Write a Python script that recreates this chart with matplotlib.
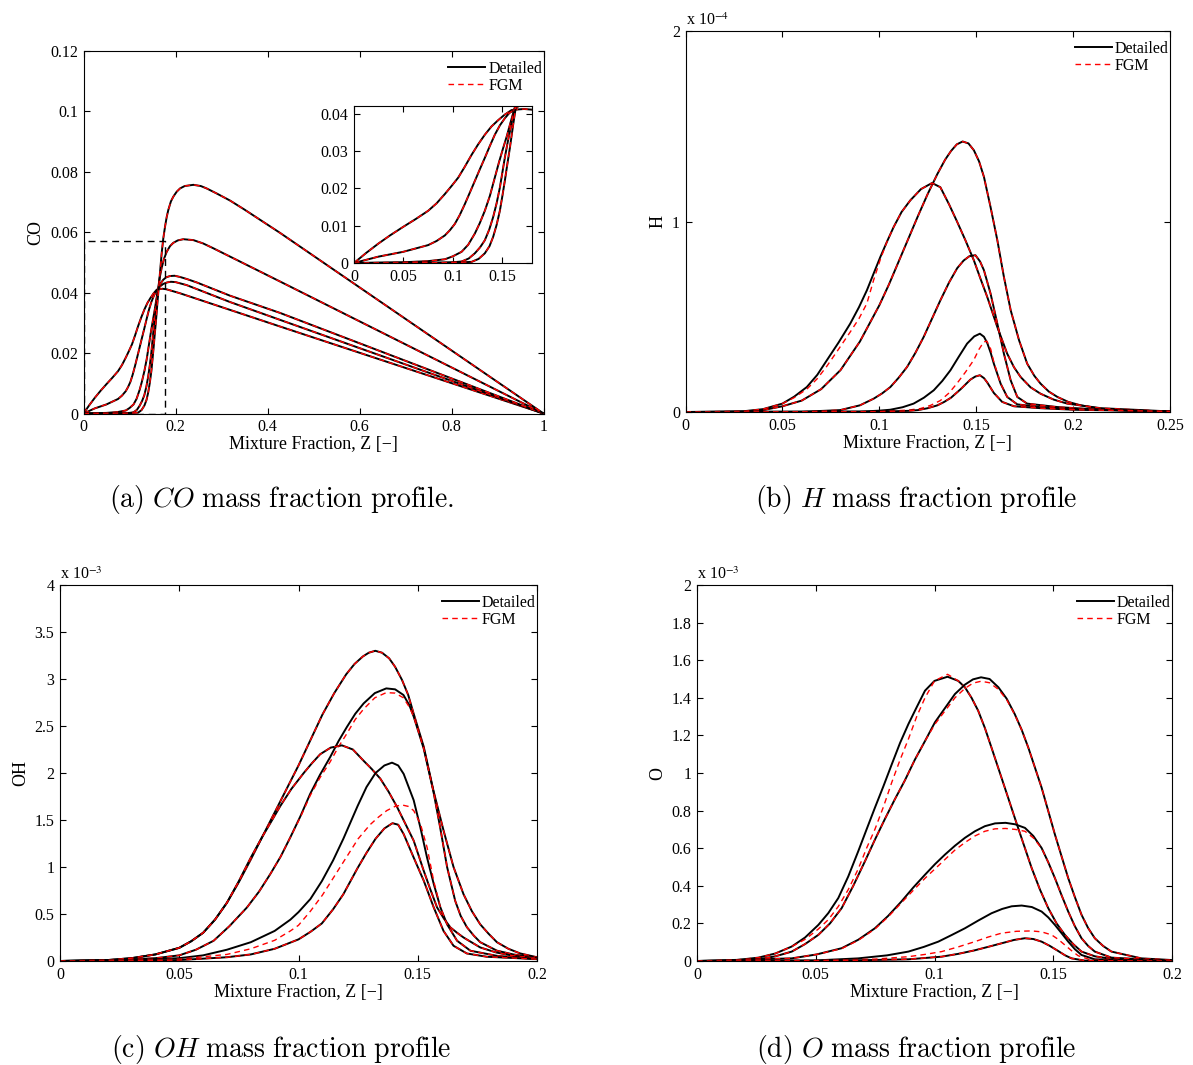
import numpy as np
import matplotlib
matplotlib.use("Agg")
import matplotlib.pyplot as plt
from matplotlib.ticker import FuncFormatter

plt.rcParams['font.family'] = ['Liberation Serif', 'DejaVu Serif']

# ---------------- data ----------------
# (a) CO mass fraction, five flamelets A..E
co_z_a = [0, 0.0123, 0.0246, 0.037, 0.0498, 0.0625, 0.075, 0.0835, 0.0919, 0.0985, 0.1054, 0.112, 0.1189, 0.1255,
          0.1323, 0.139, 0.1458, 0.1525, 0.1593, 0.162, 0.172, 0.1808, 0.2098, 0.3185, 0.4272, 1.0]
co_a = [0, 0.0027, 0.0052, 0.0075, 0.0097, 0.0118, 0.014, 0.016, 0.0185, 0.0206, 0.0229, 0.0258, 0.029, 0.0318,
        0.0344, 0.0366, 0.0383, 0.0398, 0.041, 0.0411, 0.0413, 0.0411, 0.0398, 0.0343, 0.0288, 0]
co_z_b = [0, 0.0246, 0.0498, 0.075, 0.0835, 0.0919, 0.097, 0.102, 0.107, 0.1121, 0.117, 0.1222, 0.1272, 0.1323,
          0.1374, 0.1424, 0.1475, 0.1525, 0.157, 0.162, 0.1665, 0.1735, 0.182, 0.19, 0.2, 0.2243, 0.3185, 0.4272, 1.0]
co_b = [0, 0.0017, 0.003, 0.0048, 0.0059, 0.0074, 0.0088, 0.0105, 0.0129, 0.0158, 0.0188, 0.022, 0.0251, 0.0282,
        0.0314, 0.0344, 0.0369, 0.0388, 0.0402, 0.0411, 0.0421, 0.0429, 0.0434, 0.0436, 0.0435, 0.0425, 0.0369, 0.031, 0]
co_z_c = [0, 0.05, 0.075, 0.0919, 0.1, 0.1088, 0.1155, 0.1222, 0.1272, 0.1323, 0.1374, 0.1424, 0.1466, 0.1508,
          0.1545, 0.1576, 0.16, 0.162, 0.1665, 0.1735, 0.18, 0.188, 0.198, 0.2098, 0.225, 0.246, 0.3185, 0.4272, 1.0]
co_c = [0, 0.0002, 0.0005, 0.001, 0.0018, 0.003, 0.0049, 0.0079, 0.0107, 0.014, 0.018, 0.0229, 0.027, 0.0308,
        0.034, 0.037, 0.0393, 0.0411, 0.0428, 0.0443, 0.0451, 0.0455, 0.0456, 0.0452, 0.0445, 0.0434, 0.039, 0.0333, 0]
co_z_d = [0, 0.09, 0.1, 0.1088, 0.116, 0.1222, 0.1275, 0.1323, 0.1368, 0.1407, 0.1442, 0.1475, 0.15, 0.1525,
          0.155, 0.1576, 0.16, 0.162, 0.1655, 0.1699, 0.175, 0.1808, 0.188, 0.1953, 0.205, 0.217, 0.2388, 0.26,
          0.2822, 0.3547, 0.4272, 1.0]
co_d = [0, 0.0001, 0.0002, 0.0004, 0.0012, 0.0026, 0.0042, 0.0061, 0.009, 0.0123, 0.016, 0.0202, 0.0242, 0.0282,
        0.0318, 0.0352, 0.0385, 0.0411, 0.0448, 0.0482, 0.0512, 0.0535, 0.0554, 0.0565, 0.0573, 0.0577, 0.0574, 0.0563,
        0.0547, 0.0492, 0.0437, 0]
co_z_e = [0, 0.1, 0.1189, 0.126, 0.1323, 0.137, 0.1407, 0.1442, 0.1475, 0.15, 0.1525, 0.155, 0.1576, 0.1609,
          0.1633, 0.1665, 0.1699, 0.1735, 0.1772, 0.1808, 0.1844, 0.19, 0.1953, 0.2025, 0.2098, 0.22, 0.2388, 0.255,
          0.2678, 0.29, 0.3185, 0.35, 0.4272, 1.0]
co_e = [0, 0.0001, 0.0003, 0.0011, 0.0026, 0.0045, 0.007, 0.0102, 0.014, 0.0179, 0.022, 0.0264, 0.0308, 0.037,
        0.0412, 0.047, 0.053, 0.058, 0.0618, 0.065, 0.0674, 0.0702, 0.0718, 0.0734, 0.0745, 0.0753, 0.0757, 0.0753,
        0.0745, 0.0728, 0.0705, 0.0675, 0.0598, 0]
zoom_box_z = [0.001, 0.001, 0.177, 0.177, 0.001]
zoom_box_co = [0, 0.0571, 0.0571, 0, 0]

# (b) H mass fraction [x 1e-4]
h_z_1 = [0, 0.02, 0.03, 0.04, 0.05, 0.06, 0.07, 0.08, 0.09, 0.1, 0.105, 0.11, 0.115, 0.12, 0.125, 0.13, 0.134,
         0.137, 0.14, 0.143, 0.146, 0.1488, 0.1515, 0.154, 0.1574, 0.1609, 0.1643, 0.1678, 0.1721, 0.1763, 0.18,
         0.1832, 0.1875, 0.1919, 0.1975, 0.2039, 0.2143, 0.23, 0.25]
h_1 = [0, 0.0005, 0.002, 0.01, 0.03, 0.06, 0.12, 0.22, 0.37, 0.56, 0.67, 0.79, 0.91, 1.03, 1.145, 1.25, 1.325,
       1.37, 1.405, 1.42, 1.41, 1.374, 1.315, 1.234, 1.076, 0.902, 0.709, 0.534, 0.377, 0.254, 0.19,
       0.149, 0.107, 0.079, 0.053, 0.035, 0.017, 0.007, 0.002]
h_z_2 = [0, 0.03, 0.04, 0.05, 0.056, 0.0626, 0.068, 0.0729, 0.079, 0.085, 0.0895, 0.0936, 0.097, 0.1005, 0.104,
         0.1074, 0.1115, 0.116, 0.1215, 0.1272, 0.1315, 0.136, 0.1401, 0.1445, 0.1488, 0.1522, 0.1557, 0.1609,
         0.166, 0.1695, 0.1729, 0.178, 0.1832, 0.19, 0.197, 0.2143, 0.25]
h_2 = [0, 0.004, 0.015, 0.044, 0.08, 0.131, 0.195, 0.271, 0.365, 0.464, 0.55, 0.639, 0.725, 0.813, 0.895,
       0.971, 1.05, 1.111, 1.17, 1.202, 1.18, 1.09, 1.0, 0.9, 0.796, 0.7, 0.604, 0.446,
       0.306, 0.235, 0.184, 0.13, 0.096, 0.065, 0.044, 0.02, 0.003]
h_2_fgm = [0, 0.004, 0.015, 0.044, 0.075, 0.12, 0.175, 0.24, 0.33, 0.42, 0.49, 0.57, 0.69, 0.8, 0.895,
           0.971, 1.05, 1.111, 1.17, 1.202, 1.18, 1.09, 1.0, 0.9, 0.796, 0.7, 0.604, 0.446,
           0.306, 0.235, 0.184, 0.13, 0.096, 0.065, 0.044, 0.02, 0.003]
h_z_3 = [0, 0.06, 0.0798, 0.09, 0.0971, 0.1015, 0.1057, 0.11, 0.1143, 0.1186, 0.1229, 0.1272, 0.1315, 0.136,
         0.1402, 0.1435, 0.1465, 0.1496, 0.152, 0.154, 0.1574, 0.1609, 0.1643, 0.1678, 0.1712, 0.1763, 0.1919,
         0.2143, 0.25]
h_3 = [0, 0.001, 0.01, 0.035, 0.07, 0.098, 0.131, 0.18, 0.236, 0.31, 0.394, 0.49, 0.586, 0.68,
       0.755, 0.795, 0.818, 0.823, 0.79, 0.744, 0.622, 0.464, 0.306, 0.166, 0.079, 0.044, 0.026,
       0.012, 0.003]
h_z_4 = [0, 0.09, 0.1, 0.1057, 0.112, 0.1177, 0.123, 0.1281, 0.1325, 0.1367, 0.141, 0.1453, 0.149, 0.1519,
         0.154, 0.1557, 0.1575, 0.1591, 0.1626, 0.166, 0.1712, 0.1832, 0.2, 0.25]
h_4 = [0, 0.002, 0.007, 0.012, 0.025, 0.044, 0.075, 0.114, 0.163, 0.219, 0.29, 0.359, 0.397, 0.411,
       0.395, 0.362, 0.31, 0.254, 0.149, 0.079, 0.04, 0.026, 0.015, 0.003]
h_z_4f = [0, 0.1, 0.115, 0.1212, 0.1265, 0.1315, 0.136, 0.14, 0.1445, 0.1487, 0.1515, 0.1539, 0.1555, 0.1575,
          0.1591, 0.1626, 0.166, 0.1712, 0.1832, 0.2, 0.25]
h_4f = [0, 0.002, 0.01, 0.018, 0.035, 0.06, 0.1, 0.149, 0.21, 0.272, 0.33, 0.368, 0.372, 0.33,
        0.262, 0.149, 0.079, 0.04, 0.026, 0.015, 0.003]
h_z_5 = [0, 0.1, 0.115, 0.12, 0.125, 0.13, 0.1335, 0.137, 0.142, 0.147, 0.1495, 0.1519, 0.154, 0.1557, 0.1591,
         0.1634, 0.1695, 0.1832, 0.2, 0.25]
h_5 = [0, 0.002, 0.006, 0.01, 0.02, 0.035, 0.053, 0.075, 0.12, 0.17, 0.186, 0.193, 0.178, 0.155, 0.1,
       0.053, 0.03, 0.02, 0.012, 0.003]

# (c) OH mass fraction [x 1e-3]
oh_z_1 = [0, 0.02, 0.03, 0.04, 0.05, 0.055, 0.06, 0.065, 0.07, 0.075, 0.08, 0.085, 0.09, 0.095, 0.1, 0.105, 0.11,
          0.115, 0.12, 0.1235, 0.127, 0.1295, 0.1322, 0.135, 0.138, 0.1405, 0.1434, 0.146, 0.1483, 0.1525, 0.1566,
          0.1608, 0.165, 0.1692, 0.1727, 0.1762, 0.1797, 0.1832, 0.188, 0.193, 0.2]
oh_1 = [0, 0.01, 0.03, 0.07, 0.14, 0.21, 0.3, 0.44, 0.62, 0.84, 1.08, 1.33, 1.58, 1.83, 2.08, 2.35, 2.62,
        2.85, 3.05, 3.16, 3.24, 3.28, 3.3, 3.28, 3.22, 3.13, 2.99, 2.83, 2.63, 2.28, 1.81,
        1.39, 1.0, 0.71, 0.53, 0.39, 0.29, 0.2, 0.13, 0.08, 0.04]
oh_z_2 = [0, 0.02, 0.04, 0.05, 0.057, 0.0644, 0.071, 0.0784, 0.0835, 0.0882, 0.0925, 0.0966, 0.1008, 0.1049, 0.109,
          0.1133, 0.1168, 0.1203, 0.1238, 0.1273, 0.132, 0.1368, 0.1405, 0.144, 0.1465, 0.1483, 0.1525, 0.1566,
          0.1594, 0.1623, 0.1657, 0.168, 0.1706, 0.1735, 0.1762, 0.1832, 0.19, 0.1972, 0.2]
oh_2 = [0, 0.005, 0.03, 0.06, 0.12, 0.215, 0.37, 0.57, 0.74, 0.926, 1.11, 1.317, 1.54, 1.778, 1.98,
        2.17, 2.34, 2.49, 2.63, 2.74, 2.85, 2.9, 2.89, 2.83, 2.72, 2.6, 2.26, 1.8,
        1.42, 1.0, 0.64, 0.48, 0.36, 0.27, 0.2, 0.11, 0.07, 0.045, 0.04]
oh_2_fgm = [0, 0.005, 0.03, 0.06, 0.12, 0.215, 0.37, 0.57, 0.74, 0.926, 1.11, 1.317, 1.53, 1.76, 1.95,
            2.12, 2.28, 2.42, 2.57, 2.68, 2.8, 2.855, 2.85, 2.8, 2.7, 2.6, 2.26, 1.8,
            1.42, 1.0, 0.64, 0.48, 0.36, 0.27, 0.2, 0.11, 0.07, 0.045, 0.04]
oh_z_3 = [0, 0.02, 0.03, 0.04, 0.05, 0.055, 0.06, 0.065, 0.07, 0.075, 0.08, 0.085, 0.0885, 0.0924, 0.097, 0.1022,
          0.1055, 0.1091, 0.1135, 0.1182, 0.1228, 0.1273, 0.1308, 0.1343, 0.1378, 0.1413, 0.1448, 0.1483, 0.1525,
          0.1553, 0.1581, 0.161, 0.1637, 0.1665, 0.1692, 0.1762, 0.183, 0.1902, 0.2]
oh_3 = [0, 0.01, 0.03, 0.07, 0.14, 0.21, 0.3, 0.44, 0.62, 0.85, 1.1, 1.33, 1.48, 1.65, 1.83, 2.0,
        2.1, 2.2, 2.27, 2.294, 2.25, 2.13, 2.04, 1.94, 1.8, 1.64, 1.46, 1.28, 0.96,
        0.76, 0.57, 0.45, 0.357, 0.3, 0.25, 0.144, 0.09, 0.055, 0.03]
oh_z_4 = [0, 0.03, 0.05, 0.06, 0.07, 0.08, 0.09, 0.0966, 0.1, 0.105, 0.1098, 0.1145, 0.1188, 0.1248, 0.1285,
          0.1323, 0.136, 0.1392, 0.1418, 0.1441, 0.1483, 0.1511, 0.1539, 0.1567, 0.1595, 0.1623, 0.1665, 0.1721,
          0.1832, 0.2]
oh_4 = [0, 0.01, 0.03, 0.06, 0.12, 0.2, 0.32, 0.44, 0.52, 0.66, 0.85, 1.07, 1.3, 1.65, 1.85,
        2.0, 2.08, 2.11, 2.08, 1.99, 1.71, 1.42, 1.1, 0.82, 0.57, 0.39, 0.215, 0.109,
        0.055, 0.02]
oh_z_4f = [0, 0.03, 0.05, 0.07, 0.08, 0.09, 0.0966, 0.1, 0.105, 0.11, 0.115, 0.12, 0.125, 0.13, 0.1335, 0.137,
           0.1405, 0.1434, 0.146, 0.1483, 0.1511, 0.1539, 0.1567, 0.1595, 0.1623, 0.1665, 0.1721, 0.1832, 0.2]
oh_4f = [0, 0.01, 0.02, 0.07, 0.13, 0.22, 0.32, 0.38, 0.53, 0.7, 0.9, 1.1, 1.3, 1.45, 1.53, 1.6,
         1.645, 1.66, 1.645, 1.6, 1.46, 1.21, 0.85, 0.57, 0.39, 0.215, 0.109, 0.055, 0.02]
oh_z_5 = [0, 0.03, 0.05, 0.07, 0.08, 0.09, 0.1, 0.105, 0.1098, 0.1145, 0.1188, 0.1248, 0.1285, 0.1323, 0.136,
          0.1394, 0.1418, 0.1441, 0.1483, 0.1525, 0.1567, 0.1608, 0.165, 0.1706, 0.179, 0.2]
oh_5 = [0, 0.002, 0.01, 0.04, 0.07, 0.13, 0.23, 0.31, 0.4, 0.55, 0.71, 0.99, 1.15, 1.3, 1.41,
        1.466, 1.45, 1.35, 1.1, 0.855, 0.57, 0.32, 0.162, 0.08, 0.045, 0.02]

# (d) O mass fraction [x 1e-3]
o_z_1 = [0, 0.015, 0.0259, 0.033, 0.0399, 0.0455, 0.0511, 0.0553, 0.0595, 0.0637, 0.0679, 0.0714, 0.0749, 0.0785,
         0.082, 0.0855, 0.089, 0.0925, 0.096, 0.1, 0.1055, 0.11, 0.1128, 0.1156, 0.1184, 0.1212, 0.124, 0.1296,
         0.1352, 0.1409, 0.1444, 0.1479, 0.1514, 0.1549, 0.1584, 0.1619, 0.1675, 0.1731, 0.2]
o_1 = [0, 0.003, 0.018, 0.04, 0.077, 0.125, 0.192, 0.255, 0.335, 0.45, 0.584, 0.7, 0.815, 0.93,
       1.046, 1.16, 1.26, 1.35, 1.438, 1.49, 1.512, 1.49, 1.456, 1.4, 1.331, 1.24, 1.135, 0.922,
       0.708, 0.495, 0.38, 0.281, 0.2, 0.139, 0.09, 0.05, 0.025, 0.014, 0]
o_1_fgm = [0, 0.003, 0.018, 0.04, 0.077, 0.115, 0.17, 0.22, 0.29, 0.38, 0.49, 0.6, 0.7, 0.82,
           0.95, 1.07, 1.18, 1.3, 1.4, 1.49, 1.525, 1.49, 1.456, 1.4, 1.331, 1.24, 1.135, 0.922,
           0.708, 0.495, 0.38, 0.281, 0.2, 0.139, 0.09, 0.05, 0.025, 0.014, 0]
o_z_2 = [0, 0.015, 0.0259, 0.033, 0.0399, 0.0455, 0.0511, 0.056, 0.0609, 0.0658, 0.0707, 0.0749, 0.0791, 0.0833,
         0.0875, 0.0917, 0.096, 0.1002, 0.1044, 0.1086, 0.1128, 0.1162, 0.1196, 0.1232, 0.1269, 0.1304, 0.1338,
         0.1367, 0.1395, 0.1451, 0.1507, 0.1563, 0.1591, 0.1619, 0.1647, 0.1675, 0.171, 0.1745, 0.1871, 0.2]
o_2 = [0, 0.002, 0.009, 0.025, 0.05, 0.09, 0.139, 0.2, 0.281, 0.4, 0.53, 0.645, 0.755, 0.86,
       0.96, 1.07, 1.17, 1.27, 1.345, 1.42, 1.47, 1.498, 1.509, 1.5, 1.456, 1.395, 1.313,
       1.23, 1.135, 0.922, 0.673, 0.441, 0.34, 0.246, 0.175, 0.121, 0.08, 0.05, 0.014, 0.005]
o_2_fgm = [0, 0.002, 0.009, 0.025, 0.05, 0.09, 0.139, 0.2, 0.281, 0.4, 0.53, 0.645, 0.755, 0.86,
           0.96, 1.07, 1.17, 1.26, 1.33, 1.4, 1.45, 1.478, 1.488, 1.48, 1.445, 1.39, 1.31,
           1.23, 1.135, 0.922, 0.673, 0.441, 0.34, 0.246, 0.175, 0.121, 0.08, 0.05, 0.014, 0.005]
o_z_3 = [0, 0.0399, 0.0504, 0.0609, 0.0679, 0.0749, 0.0805, 0.0861, 0.091, 0.096, 0.1002, 0.1044, 0.1086, 0.1128,
         0.117, 0.1212, 0.1255, 0.1299, 0.134, 0.1381, 0.1416, 0.1451, 0.1479, 0.1507, 0.1535, 0.1563, 0.1591,
         0.1619, 0.1647, 0.1675, 0.1745, 0.2]
o_3 = [0, 0.014, 0.035, 0.068, 0.113, 0.174, 0.24, 0.317, 0.39, 0.459, 0.515, 0.566, 0.613, 0.655,
       0.69, 0.717, 0.732, 0.735, 0.727, 0.708, 0.665, 0.601, 0.525, 0.441, 0.35, 0.263, 0.185,
       0.121, 0.08, 0.05, 0.018, 0]
o_3_fgm = [0, 0.014, 0.035, 0.066, 0.11, 0.17, 0.235, 0.31, 0.375, 0.44, 0.49, 0.54, 0.59, 0.63,
           0.665, 0.69, 0.703, 0.705, 0.7, 0.69, 0.655, 0.6, 0.525, 0.441, 0.35, 0.263, 0.185,
           0.121, 0.08, 0.05, 0.018, 0]
o_z_4 = [0, 0.05, 0.0679, 0.08, 0.089, 0.0955, 0.1016, 0.1072, 0.1128, 0.1184, 0.124, 0.1285, 0.1325, 0.1367,
         0.141, 0.1451, 0.1479, 0.1507, 0.1535, 0.1563, 0.1591, 0.1619, 0.1675, 0.2]
o_4 = [0, 0.003, 0.014, 0.03, 0.05, 0.075, 0.103, 0.138, 0.174, 0.215, 0.254, 0.277, 0.291, 0.295,
       0.287, 0.263, 0.232, 0.192, 0.148, 0.103, 0.063, 0.032, 0.009, 0]
o_z_4f = [0, 0.05, 0.075, 0.089, 0.096, 0.103, 0.11, 0.117, 0.1225, 0.1282, 0.1345, 0.1409, 0.1451, 0.1493,
          0.1521, 0.1549, 0.1577, 0.1605, 0.166, 0.2]
o_4f = [0, 0.003, 0.01, 0.023, 0.035, 0.05, 0.075, 0.103, 0.127, 0.148, 0.158, 0.16, 0.155, 0.139,
        0.115, 0.085, 0.055, 0.028, 0.005, 0]
o_z_5 = [0, 0.06, 0.089, 0.103, 0.11, 0.117, 0.1225, 0.1282, 0.1335, 0.138, 0.1416, 0.1451, 0.1486, 0.1521,
         0.155, 0.1577, 0.1633, 0.2]
o_5 = [0, 0.002, 0.009, 0.023, 0.038, 0.057, 0.075, 0.094, 0.112, 0.121, 0.117, 0.103, 0.08, 0.053,
       0.03, 0.014, 0.002, 0]

# ---------------- layout ----------------
W, H = 1193, 1065
fig = plt.figure(figsize=(W / 100, H / 100), dpi=100)


def box(l, r, t, b):
    return [l / W, 1 - b / H, (r - l) / W, (b - t) / H]


def matlab_style(ax):
    ax.tick_params(direction='in', top=True, right=True, length=4, width=0.8,
                   labelsize=11.5, pad=4)
    for s in ax.spines.values():
        s.set_linewidth(0.8)
    ax.xaxis.set_major_formatter(FuncFormatter(lambda v, p: f'{v:g}'))
    ax.yaxis.set_major_formatter(FuncFormatter(lambda v, p: f'{v:g}'))


det = dict(color='k', lw=1.4)
fgm = dict(color='r', lw=1.0, ls=(0, (4, 3)))


def finish(ax, ylabel, exponent=None):
    ax.set_xlabel('Mixture Fraction, Z [\u2212]', fontsize=13, labelpad=1)
    ax.set_ylabel(ylabel, fontsize=13, labelpad=4)
    ax.legend(['Detailed', 'FGM'], loc='upper right', bbox_to_anchor=(1.004, 0.982),
              frameon=False, fontsize=11.5, handlelength=2.3, handletextpad=0.2,
              labelspacing=0.05, borderaxespad=0, borderpad=0.2)
    if exponent:
        ax.text(0, 1.004, r'x 10$^{%s}$' % exponent, transform=ax.transAxes,
                ha='left', va='bottom', fontsize=11.5, math_fontfamily='stix')


# (a) CO
ax = fig.add_axes(box(83.5, 543.5, 51, 413.5))
co_sets = [(co_z_a, co_a), (co_z_b, co_b), (co_z_c, co_c), (co_z_d, co_d), (co_z_e, co_e)]
for z, y in co_sets:
    ax.plot(z, y, **det)
    ax.plot(z, y, **fgm)
ax.plot(zoom_box_z, zoom_box_co, color='k', lw=1.0, ls=(0, (5, 3.5)))
ax.set_xlim(0, 1)
ax.set_ylim(0, 0.12)
ax.set_xticks(np.arange(0, 1.01, 0.2))
ax.set_yticks(np.arange(0, 0.121, 0.02))
matlab_style(ax)
finish(ax, 'CO')

ins = fig.add_axes(box(354, 532, 106, 263))
for z, y in co_sets:
    ins.plot(z, y, **det)
    ins.plot(z, y, **fgm)
ins.set_xlim(0, 0.18)
ins.set_ylim(0, 0.0421)
ins.set_xticks([0, 0.05, 0.1, 0.15])
ins.set_yticks([0, 0.01, 0.02, 0.03, 0.04])
matlab_style(ins)

# (b) H
ax = fig.add_axes(box(685.5, 1170, 31, 412))
ax.plot(h_z_1, h_1, **det)
ax.plot(h_z_1, h_1, **fgm)
ax.plot(h_z_2, h_2, **det)
ax.plot(h_z_2, h_2_fgm, **fgm)
ax.plot(h_z_3, h_3, **det)
ax.plot(h_z_3, h_3, **fgm)
ax.plot(h_z_4, h_4, **det)
ax.plot(h_z_4f, h_4f, **fgm)
ax.plot(h_z_5, h_5, **det)
ax.plot(h_z_5, h_5, **fgm)
ax.set_xlim(0, 0.25)
ax.set_ylim(0, 2)
ax.set_xticks([0, 0.05, 0.1, 0.15, 0.2, 0.25])
ax.set_yticks([0, 1, 2])
matlab_style(ax)
finish(ax, 'H', '-4')

# (c) OH
ax = fig.add_axes(box(60, 537, 585, 961))
ax.plot(oh_z_1, oh_1, **det)
ax.plot(oh_z_1, oh_1, **fgm)
ax.plot(oh_z_2, oh_2, **det)
ax.plot(oh_z_2, oh_2_fgm, **fgm)
ax.plot(oh_z_3, oh_3, **det)
ax.plot(oh_z_3, oh_3, **fgm)
ax.plot(oh_z_4, oh_4, **det)
ax.plot(oh_z_4f, oh_4f, **fgm)
ax.plot(oh_z_5, oh_5, **det)
ax.plot(oh_z_5, oh_5, **fgm)
ax.set_xlim(0, 0.2)
ax.set_ylim(0, 4)
ax.set_xticks([0, 0.05, 0.1, 0.15, 0.2])
ax.set_yticks(np.arange(0, 4.01, 0.5))
matlab_style(ax)
finish(ax, 'OH', '-3')

# (d) O
ax = fig.add_axes(box(697, 1172, 585, 961))
ax.plot(o_z_1, o_1, **det)
ax.plot(o_z_1, o_1_fgm, **fgm)
ax.plot(o_z_2, o_2, **det)
ax.plot(o_z_2, o_2_fgm, **fgm)
ax.plot(o_z_3, o_3, **det)
ax.plot(o_z_3, o_3_fgm, **fgm)
ax.plot(o_z_4, o_4, **det)
ax.plot(o_z_4f, o_4f, **fgm)
ax.plot(o_z_5, o_5, **det)
ax.plot(o_z_5, o_5, **fgm)
ax.set_xlim(0, 0.2)
ax.set_ylim(0, 2)
ax.set_xticks([0, 0.05, 0.1, 0.15, 0.2])
ax.set_yticks(np.arange(0, 2.01, 0.2))
matlab_style(ax)
finish(ax, 'O', '-3')

# captions
captions = [r'$\mathrm{(a)\ }CO\mathrm{\ mass\ fraction\ profile.}$',
            r'$\mathrm{(b)\ }H\mathrm{\ mass\ fraction\ profile}$',
            r'$\mathrm{(c)\ }OH\mathrm{\ mass\ fraction\ profile}$',
            r'$\mathrm{(d)\ }O\mathrm{\ mass\ fraction\ profile}$']
cap_xy = [(281, 500), (916, 500), (281, 1049), (916, 1049)]
for txt, (x, y) in zip(captions, cap_xy):
    fig.text(x / W, 1 - y / H, txt, ha='center', va='center', fontsize=20,
             math_fontfamily='cm')

fig.savefig('out.png', dpi=100)
